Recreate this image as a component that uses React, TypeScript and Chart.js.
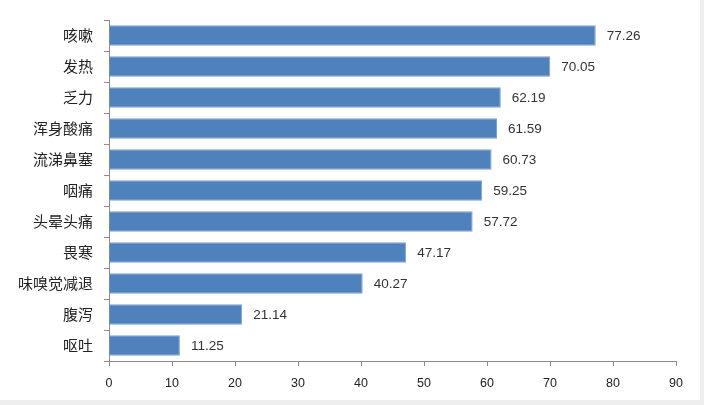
import React, { useEffect, useRef } from "react";
import { Chart, registerables } from "chart.js";

Chart.register(...registerables);

const categories = ["咳嗽", "发热", "乏力", "浑身酸痛", "流涕鼻塞", "咽痛", "头晕头痛", "畏寒", "味嗅觉减退", "腹泻", "呕吐"];
const values = [77.26, 70.05, 62.19, 61.59, 60.73, 59.25, 57.72, 47.17, 40.27, 21.14, 11.25];
const xMin = 0;
const xMax = 90;
const xStep = 10;

const valueLabels = {
  id: "valueLabels",
  afterDatasetsDraw(chart: any) {
    const ctx = chart.ctx;
    const meta = chart.getDatasetMeta(0);
    ctx.save();
    ctx.font = "13.5px 'Liberation Sans', Arial, sans-serif";
    ctx.fillStyle = "#333333";
    ctx.textAlign = "left";
    ctx.textBaseline = "middle";
    meta.data.forEach((bar: any, i: number) => {
      ctx.fillText(values[i].toFixed(2), bar.x + 11, bar.y + 1);
    });
    ctx.restore();
  },
};

export default function App() {
  const ref = useRef<HTMLCanvasElement | null>(null);
  useEffect(() => {
    if (!ref.current) return;
    const chart = new Chart(ref.current, {
      type: "bar",
      data: {
        labels: categories,
        datasets: [
          {
            data: values,
            backgroundColor: "#4F81BD",
            borderColor: "#7EA2CE",
            borderWidth: 1,
            barPercentage: 0.66,
            categoryPercentage: 1,
          },
        ],
      },
      options: {
        indexAxis: "y",
        animation: false,
        responsive: false,
        maintainAspectRatio: false,
        events: [],
        layout: { padding: { top: 18, right: 24, left: 0, bottom: 0 } },
        plugins: { legend: { display: false }, tooltip: { enabled: false } },
        scales: {
          x: {
            min: xMin,
            max: xMax,
            ticks: {
              stepSize: xStep,
              color: "#222",
              padding: 10,
              font: { family: "'Liberation Sans', Arial, sans-serif", size: 12.5 },
            },
            grid: { drawOnChartArea: false, tickLength: 5, color: "#8c8c8c" },
            border: { color: "#8c8c8c" },
            afterFit: (s: any) => {
              s.height = 39;
            },
          },
          y: {
            ticks: {
              color: "#222",
              padding: 11,
              font: { family: "'Noto Sans CJK SC', sans-serif", size: 15 },
            },
            grid: { drawOnChartArea: false, tickLength: 5, color: "#8c8c8c", offset: true },
            border: { color: "#8c8c8c" },
            afterFit: (s: any) => {
              s.width = 109;
            },
          },
        },
      },
      plugins: [valueLabels],
    });
    return () => chart.destroy();
  }, []);
  return (
    <div style={{ position: "fixed", left: 0, top: 0, width: 704, height: 405, background: "#eeeeee" }}>
      <div style={{ width: 700, height: 400, background: "#ffffff" }}>
        <canvas ref={ref} width={700} height={400} style={{ display: "block" }} />
      </div>
    </div>
  );
}
